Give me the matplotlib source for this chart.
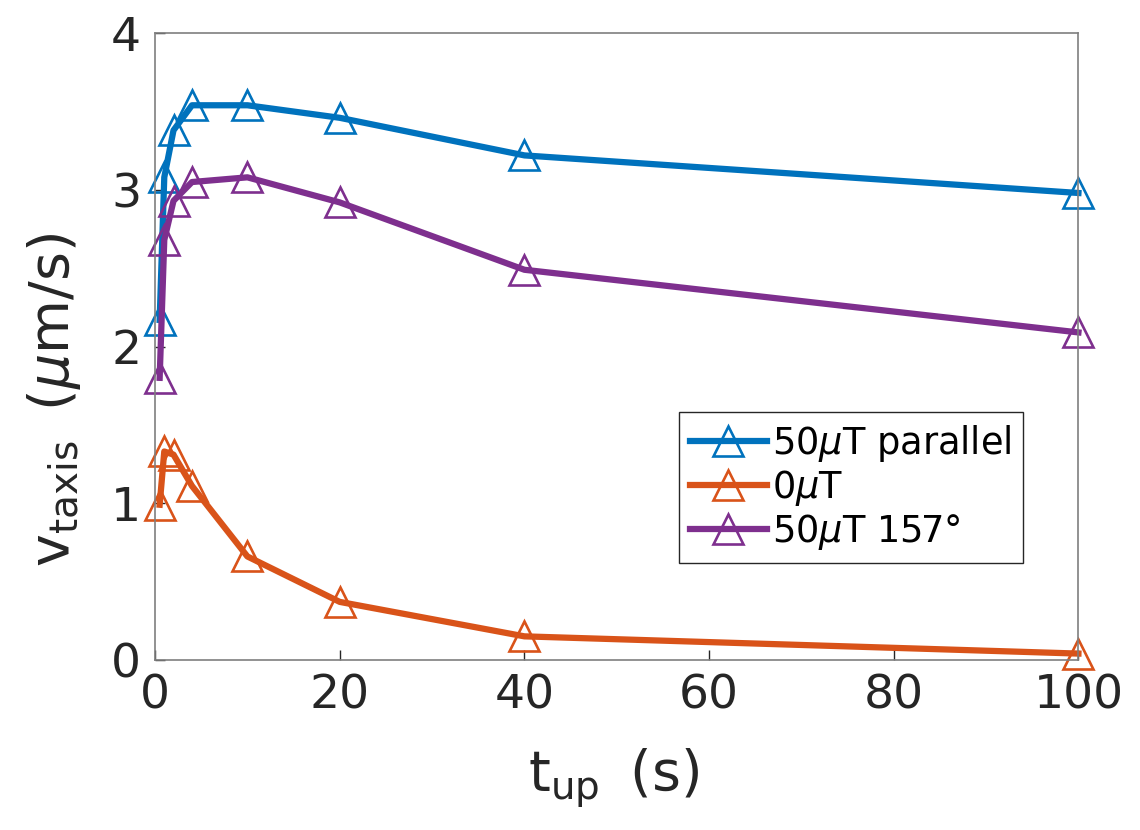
import matplotlib.pyplot as plt

# data
t_up = [0.5, 1, 2, 4, 10, 20, 40, 100]
v_parallel = [2.17, 3.08, 3.38, 3.54, 3.54, 3.46, 3.22, 2.98]
v_zero = [0.99, 1.33, 1.31, 1.11, 0.66, 0.37, 0.15, 0.04]
v_157 = [1.80, 2.68, 2.93, 3.05, 3.08, 2.92, 2.49, 2.09]

labels = ['50$\\mu$T parallel', '0$\\mu$T', '50$\\mu$T 157°']
colors = ['#0072BD', '#D95319', '#7E2F8E']

fig = plt.figure(figsize=(11.4, 8.3), dpi=100)
ax = fig.add_axes([0.136, 0.205, 0.81, 0.755])

for y, lab, c in zip([v_parallel, v_zero, v_157], labels, colors):
    ax.plot(t_up, y, color=c, lw=4.5, marker='^', ms=22, mfc='none',
            mec=c, mew=1.9, label=lab, clip_on=False)

ax.set_xlim(0, 100)
ax.set_ylim(0, 4)
ax.set_xticks([0, 20, 40, 60, 80, 100])
ax.set_yticks([0, 1, 2, 3, 4])
ax.tick_params(direction='in', length=7, width=1, labelsize=34,
               colors='#262626', pad=10)
for s in ax.spines.values():
    s.set_color('#7f7f7f')
    s.set_linewidth(1.2)

ax.set_xlabel('t$_{\\rm up}$\u2009 (s)', fontsize=40, color='#262626')
ax.set_ylabel('v$_{\\rm taxis}$\u2009 ($\\mu$m/s)', fontsize=40, color='#262626')
ax.xaxis.set_label_coords(0.497, -0.138)
ax.yaxis.set_label_coords(-0.078, 0.415)
ax.xaxis.label.set_va('top')

leg = ax.legend(loc='upper right', bbox_to_anchor=(0.94, 0.395), fontsize=26.5,
                handlelength=2.1, handletextpad=0.15, labelspacing=0.1,
                borderpad=0.3, borderaxespad=0, fancybox=False, framealpha=1)
leg.get_frame().set_edgecolor('#262626')
leg.get_frame().set_linewidth(1.0)

plt.savefig('out.png')
